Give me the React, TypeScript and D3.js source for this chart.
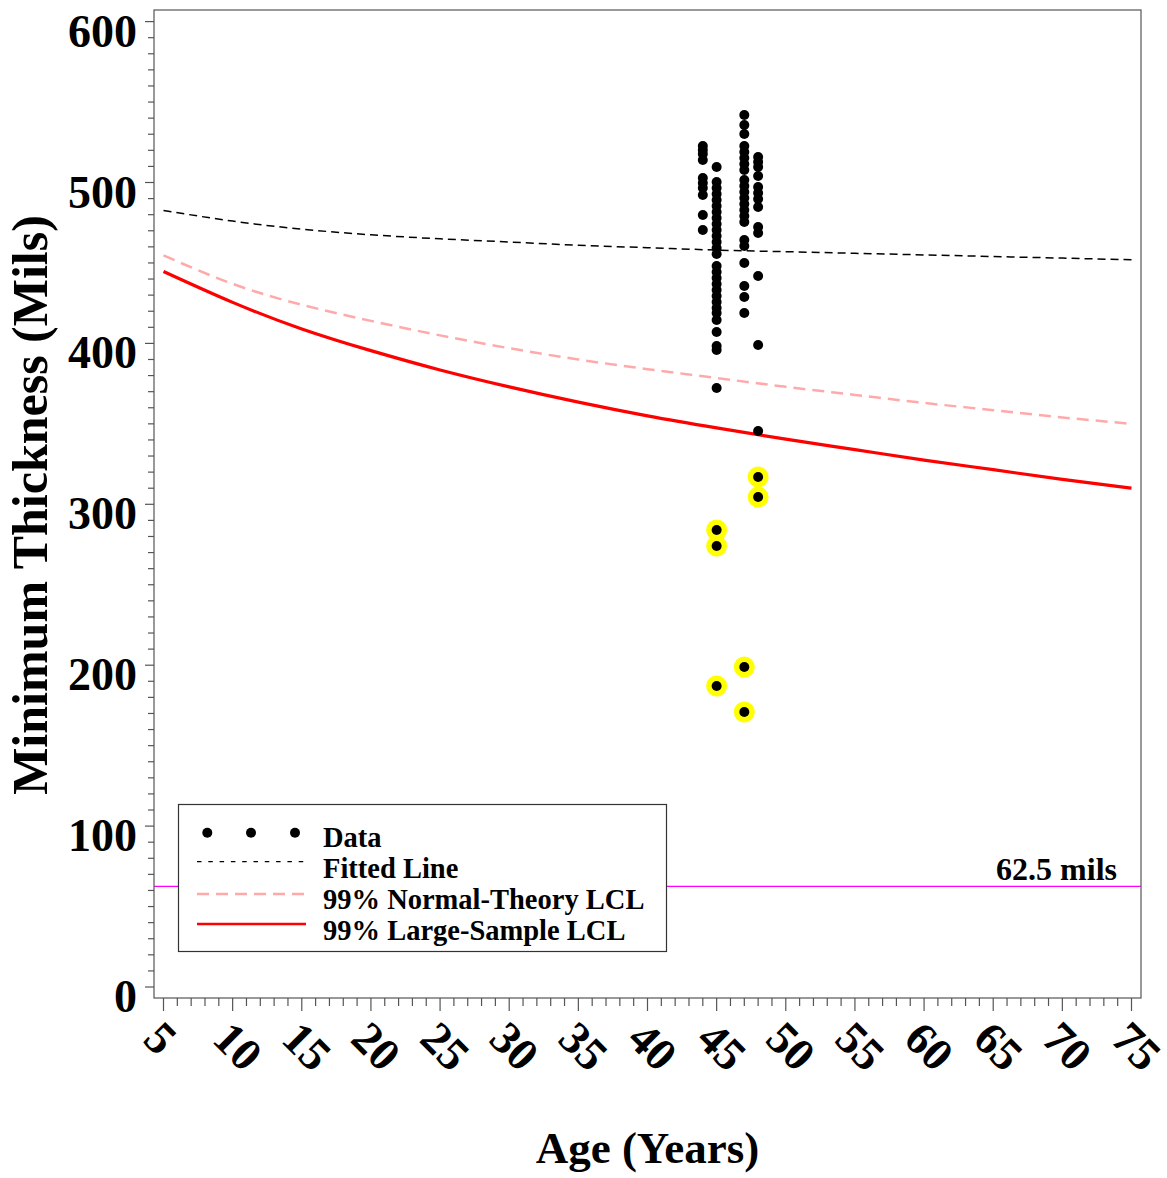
import React from "react";
import * as d3 from "d3";

// ---- Data ----
const curveAges = [5, 10, 15, 20, 25, 30, 35, 40, 45, 50, 55, 60, 65, 70, 75];
const fittedLine = [482.6, 476, 471, 467.5, 465, 463, 461, 459.5, 458, 457, 456, 455, 454, 453, 452];
const normalTheoryLCL = [454.7, 437, 424, 414, 405, 397, 390, 384, 378.5, 373, 368, 363, 358.5, 354, 350];
const largeSampleLCL = [444.7, 425.5, 409, 395.5, 383.5, 373, 363.5, 355, 347.5, 340.5, 334, 327.5, 321.5, 315.5, 310];

const age44Values = [522.7, 520.2, 517.7, 514.0, 502.8, 499.7, 496.6, 492.2, 479.8, 470.5];
const age45Values = [509.6, 500.3, 496.6, 492.9, 489.1, 485.4, 481.7, 477.9, 474.2, 470.5, 466.7, 463.0, 459.3, 455.6,
  448.1, 444.4, 440.6, 436.9, 433.2, 429.5, 425.7, 422.0, 418.9, 414.5, 407.1, 398.4, 395.9, 372.3];
const age47Values = [541.9, 535.7, 530.1, 522.7, 519.0, 515.2, 511.5, 507.8, 501.6, 497.8, 494.1, 490.4, 486.6, 482.9,
  479.2, 475.4, 464.3, 460.5, 450.0, 435.7, 428.8, 418.9];
const age48Values = [515.8, 512.7, 509.6, 504.0, 497.2, 493.5, 489.7, 484.8, 472.3, 468.6, 441.9, 399.0, 345.6];

const flaggedAges = [45, 45, 45, 47, 47, 48, 48];
const flaggedValues = [284.0, 274.1, 187.1, 198.9, 170.9, 317.0, 304.5];

const xTicks = [5, 10, 15, 20, 25, 30, 35, 40, 45, 50, 55, 60, 65, 70, 75];
const yTicks = [0, 100, 200, 300, 400, 500, 600];
const limitValue = 62.5;
const limitLabel = "62.5 mils";
const legendLabels = ["Data", "Fitted Line", "99% Normal-Theory LCL", "99% Large-Sample LCL"];

const FONT = '"Liberation Serif", "Times New Roman", Times, serif';

export default function App() {
  const W = 1167, H = 1178;
  const frame = { left: 154, right: 1141, top: 10, bottom: 998 };
  const x = d3.scaleLinear().domain([5, 75]).range([163.5, 1131.5]);
  const y = d3.scaleLinear().domain([0, 600]).range([987, 21.6]);

  const line = d3.line<[number, number]>()
    .x(d => x(d[0]))
    .y(d => y(d[1]))
    .curve(d3.curveNatural);

  const fittedPath = line(curveAges.map((a, i) => [a, fittedLine[i]]) as [number, number][]) || "";
  const normalPath = line(curveAges.map((a, i) => [a, normalTheoryLCL[i]]) as [number, number][]) || "";
  const largePath = line(curveAges.map((a, i) => [a, largeSampleLCL[i]]) as [number, number][]) || "";

  const points: [number, number][] = [
    ...age44Values.map(v => [44, v] as [number, number]),
    ...age45Values.map(v => [45, v] as [number, number]),
    ...age47Values.map(v => [47, v] as [number, number]),
    ...age48Values.map(v => [48, v] as [number, number]),
  ];
  const flagged: [number, number][] = flaggedAges.map((a, i) => [a, flaggedValues[i]]);

  const yMinor = d3.range(0, 601, 10);
  const xMinor = d3.range(5, 76, 1);
  const axisColor = "#555";

  const legend = { x0: 178.5, y0: 804.5, x1: 666.5, y1: 951.5 };
  const legendBase = [847, 878, 909, 940];
  const legendSymY = [832.7, 861.7, 894, 924];

  return (
    <div style={{ position: "absolute", left: 0, top: 0 }}>
      <svg width={W} height={H} style={{ display: "block" }}>
        <rect x={0} y={0} width={W} height={H} fill="#fff" />

        {/* limit line */}
        <line x1={frame.left} x2={frame.right} y1={y(limitValue)} y2={y(limitValue)} stroke="#ff00ff" strokeWidth={1.3} />
        <text x={1117} y={879.5} textAnchor="end" fontFamily={FONT} fontWeight="bold" fontSize={32}>{limitLabel}</text>

        {/* curves */}
        <path d={fittedPath} fill="none" stroke="#000" strokeWidth={1.5} strokeDasharray="8,5" />
        <path d={normalPath} fill="none" stroke="#ffaaaa" strokeWidth={2.5} strokeDasharray="12,7" />
        <path d={largePath} fill="none" stroke="#ff0000" strokeWidth={3.2} />

        {/* data */}
        {flagged.map((p, i) => (
          <circle key={"f" + i} cx={x(p[0])} cy={y(p[1])} r={10.5} fill="#ffff00" />
        ))}
        {points.map((p, i) => (
          <circle key={"p" + i} cx={x(p[0])} cy={y(p[1])} r={5} fill="#000" />
        ))}
        {flagged.map((p, i) => (
          <circle key={"fd" + i} cx={x(p[0])} cy={y(p[1])} r={5} fill="#000" />
        ))}

        {/* frame */}
        <rect x={frame.left} y={frame.top} width={frame.right - frame.left} height={frame.bottom - frame.top}
          fill="none" stroke={axisColor} strokeWidth={1.2} />

        {/* y ticks */}
        {yMinor.map(v => (
          <line key={"ym" + v} x1={v % 100 === 0 ? 145 : 148} x2={frame.left} y1={y(v)} y2={y(v)} stroke={axisColor} strokeWidth={1.2} />
        ))}
        {yTicks.map(v => (
          <text key={"yt" + v} x={137} y={y(v) + 25} textAnchor="end" fontFamily={FONT} fontWeight="bold" fontSize={46}>{v}</text>
        ))}

        {/* x ticks */}
        {xMinor.map(v => (
          <line key={"xm" + v} x1={x(v)} x2={x(v)} y1={frame.bottom} y2={v % 5 === 0 ? 1011 : 1006} stroke={axisColor} strokeWidth={1.2} />
        ))}
        {xTicks.map(v => (
          <text key={"xt" + v} transform={`translate(${x(v) - 22},1041) rotate(45)`} textAnchor="start"
            fontFamily={FONT} fontWeight="bold" fontSize={46}>{v}</text>
        ))}

        {/* axis titles */}
        <text transform="translate(47,505) rotate(-90)" textAnchor="middle" fontFamily={FONT} fontWeight="bold" fontSize={50}>
          Minimum Thickness (Mils)
        </text>
        <text x={647.5} y={1163} textAnchor="middle" fontFamily={FONT} fontWeight="bold" fontSize={45}>Age (Years)</text>

        {/* legend */}
        <rect x={legend.x0} y={legend.y0} width={legend.x1 - legend.x0} height={legend.y1 - legend.y0}
          fill="#fff" stroke="#333" strokeWidth={1.2} />
        {[207.3, 251, 295].map((cx, i) => (
          <circle key={"ld" + i} cx={cx} cy={legendSymY[0]} r={5} fill="#000" />
        ))}
        <line x1={197} x2={306} y1={legendSymY[1]} y2={legendSymY[1]} stroke="#000" strokeWidth={1.3} strokeDasharray="4.5,6.8" />
        <line x1={197} x2={306} y1={legendSymY[2]} y2={legendSymY[2]} stroke="#ffaaaa" strokeWidth={2.5} strokeDasharray="12,7" />
        <line x1={197} x2={306} y1={legendSymY[3]} y2={legendSymY[3]} stroke="#ff0000" strokeWidth={2.5} />
        {legendLabels.map((t, i) => (
          <text key={"lt" + i} x={323} y={legendBase[i]} fontFamily={FONT} fontWeight="bold" fontSize={28.5}>{t}</text>
        ))}
      </svg>
    </div>
  );
}
